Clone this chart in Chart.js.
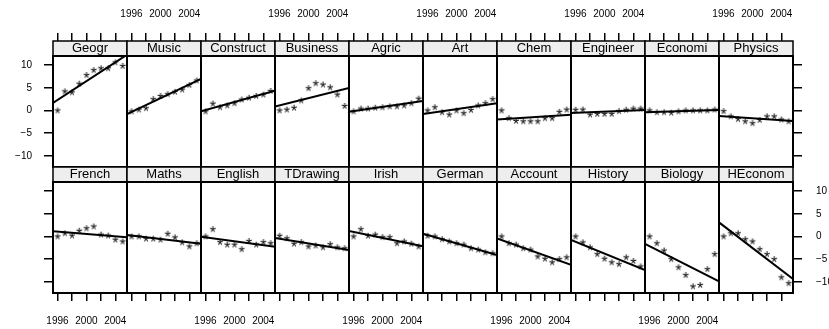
<!DOCTYPE html>
<html>
<head>
<meta charset="utf-8">
<script src="https://cdn.jsdelivr.net/npm/chart.js@4.4.1/dist/chart.umd.min.js"></script>
<style>
  html, body { margin: 0; padding: 0; background: #fff; }
  #wrap { position: relative; width: 829px; height: 329px; overflow: hidden; background: #fff; }
  #wrap canvas { position: absolute; }
</style>
</head>
<body>
<div id="wrap"></div>
<script>
// data
const years = [1996, 1997, 1998, 1999, 2000, 2001, 2002, 2003, 2004, 2005];
const subjects = ["Geogr", "Music", "Construct", "Business", "Agric", "Art", "Chem", "Engineer", "Economi", "Physics",
                  "French", "Maths", "English", "TDrawing", "Irish", "German", "Account", "History", "Biology", "HEconom"];

const geogr     = [0, 4.2, 4.0, 5.9, 7.8, 8.9, 9.3, 9.3, 10.6, 9.8];
const music     = [-0.2, 0.2, 0.5, 2.5, 3.2, 3.6, 4.1, 4.6, 5.6, 6.6];
const construct = [-0.2, 1.5, 0.7, 1.1, 1.6, 2.4, 2.8, 3.2, 3.5, 4.3];
const business  = [0, 0.2, 0.6, 2.2, 4.9, 6.0, 5.7, 5.1, 3.5, 1.0];
const agric     = [-0.2, 0.4, 0.4, 0.6, 0.7, 0.9, 0.9, 1.1, 1.6, 2.6];
const art       = [0, 0.7, -0.4, -0.9, 0, -0.6, 0.1, 1.1, 1.6, 2.5];
const chem      = [0, -1.7, -2.3, -2.4, -2.4, -2.4, -1.7, -1.7, -0.3, 0.2];
const engineer  = [0.15, 0.2, -0.9, -0.75, -0.75, -0.75, -0.15, 0.15, 0.4, 0.4];
const economi   = [0, -0.4, -0.4, -0.5, -0.2, 0, 0, 0, 0, 0.2];
const physics   = [-0.15, -1.3, -1.9, -2.4, -2.8, -2.1, -1.3, -1.3, -2.0, -2.4];
const french    = [0, 0.7, 0.2, 1.25, 1.8, 2.2, 0.4, 0.2, -0.7, -1.1];
const maths     = [0, 0, -0.5, -0.5, -0.7, 0.6, -0.2, -1.3, -2.2, -1.5];
const english   = [0, 1.6, -1.25, -1.8, -1.8, -2.8, -1.0, -1.8, -1.25, -1.5];
const tdrawing  = [0.15, -0.4, -1.6, -1.25, -2.2, -2.0, -2.4, -1.7, -2.4, -2.6];
const irish     = [0, 1.6, 0.15, 0.4, -0.15, -0.15, -1.5, -1.1, -1.6, -2.2];
const german    = [0.15, 0, -0.6, -1.1, -1.5, -1.8, -2.6, -2.9, -3.5, -3.7];
const account   = [0, -1.5, -1.8, -2.6, -2.9, -4.4, -4.9, -5.7, -5.0, -4.6];
const history   = [0, -1.3, -2.4, -3.9, -4.9, -5.7, -6.1, -4.6, -5.4, -6.6];
const biology   = [0, -1.5, -3.1, -5.0, -6.8, -8.5, -11.0, -10.7, -7.2, -3.9];
const heconom   = [0, 0.7, 0.7, -0.6, -1.1, -2.8, -3.9, -5.0, -9.0, -10.3];

const series = [geogr, music, construct, business, agric, art, chem, engineer, economi, physics,
                french, maths, english, tdrawing, irish, german, account, history, biology, heconom];

const xTickValues = [1996, 1998, 2000, 2002, 2004];
const xTickLabels = [1996, 2000, 2004];
const yTickValues = [-10, -5, 0, 5, 10];

// axis ranges
const X_MIN = 1995.38, X_MAX = 2005.62;
const Y_MIN = -12.45, Y_MAX = 12.0;

// layout
const FONT = '"Liberation Sans", Arial, Helvetica, sans-serif';
const PANEL_W = 74, PANEL_H = 111, STRIP_H = 15;
const LEFT0 = 53;
const ROW_TOP = [56, 182];
const M = { l: 55, r: 40, t: 56, b: 40 };

// "*" marker like lattice pch="*"
function makeStar() {
  const c = document.createElement("canvas");
  c.width = 10; c.height = 10;
  const g = c.getContext("2d");
  g.font = "16px " + FONT;
  g.fillStyle = "#000";
  const m = g.measureText("*");
  const w = m.actualBoundingBoxLeft + m.actualBoundingBoxRight;
  const h = m.actualBoundingBoxAscent + m.actualBoundingBoxDescent;
  g.fillText("*", 5 - w / 2 + m.actualBoundingBoxLeft, 5 - h / 2 + m.actualBoundingBoxAscent);
  return c;
}
const star = makeStar();

// least squares line through a panel's points
function fitLine(xs, ys) {
  const n = xs.length;
  const mx = xs.reduce((a, b) => a + b, 0) / n;
  const my = ys.reduce((a, b) => a + b, 0) / n;
  let sxy = 0, sxx = 0;
  for (let i = 0; i < n; i++) {
    sxy += (xs[i] - mx) * (ys[i] - my);
    sxx += (xs[i] - mx) * (xs[i] - mx);
  }
  const b = sxy / sxx;
  return x => my + b * (x - mx);
}

const fmtY = v => (v < 0 ? "\u2212" + Math.abs(v) : String(v));

// strip behind the title + box round the panel
const panelBox = {
  id: "panelBox",
  beforeDraw(chart) {
    const t = chart.titleBlock;
    if (!t) return;
    const g = chart.ctx;
    g.save();
    g.fillStyle = "#eeeeee";
    g.fillRect(t.left, t.top, t.width, t.height);
    g.strokeStyle = "#000";
    g.lineWidth = 1.5;
    g.strokeRect(t.left, t.top, t.width, t.height);
    g.restore();
  },
  afterDatasetsDraw(chart) {
    const a = chart.chartArea;
    const g = chart.ctx;
    g.save();
    g.strokeStyle = "#000";
    g.lineWidth = 2;
    g.strokeRect(a.left, a.top, a.right - a.left, a.bottom - a.top);
    g.restore();
  }
};

const wrap = document.getElementById("wrap");

subjects.forEach((name, i) => {
  const row = Math.floor(i / 10);
  const col = i % 10;
  const vals = series[i];

  const canvas = document.createElement("canvas");
  canvas.width = M.l + PANEL_W + M.r;
  canvas.height = M.t + PANEL_H + M.b;
  canvas.style.left = (LEFT0 + col * PANEL_W - M.l) + "px";
  canvas.style.top = (ROW_TOP[row] - M.t) + "px";
  wrap.appendChild(canvas);

  const showX = row === 0 ? col % 2 === 1 : col % 2 === 0;
  const hasY = col === 0 || col === 9;
  const yPos = col === 0 ? "left" : "right";
  const showY = (row === 0 && col === 0) || (row === 1 && col === 9);

  const fit = fitLine(years, vals);

  const yScale = {
    type: "linear",
    position: yPos,
    display: hasY,
    min: Y_MIN,
    max: Y_MAX,
    afterBuildTicks: s => { s.ticks = yTickValues.map(v => ({ value: v })); },
    ticks: {
      color: "#000",
      padding: yPos === "left" ? 12 : 14,
      font: { family: FONT, size: 10 },
      callback: v => (showY ? fmtY(v) : "")
    },
    grid: { drawOnChartArea: false, tickLength: 9, color: "#000", lineWidth: 1.5 },
    border: { display: false }
  };
  if (hasY) yScale.afterFit = s => { s.width = yPos === "left" ? M.l : M.r; };

  new Chart(canvas, {
    type: "scatter",
    data: {
      datasets: [
        {
          data: years.map((x, k) => ({ x, y: vals[k] })),
          pointStyle: star,
          pointRadius: 3,
          clip: 0
        },
        {
          type: "line",
          data: [{ x: X_MIN, y: fit(X_MIN) }, { x: X_MAX, y: fit(X_MAX) }],
          borderColor: "#000",
          borderWidth: 2,
          pointRadius: 0,
          fill: false,
          clip: 0
        }
      ]
    },
    options: {
      responsive: false,
      animation: false,
      devicePixelRatio: 1,
      events: [],
      layout: {
        autoPadding: false,
        padding: {
          left: col === 0 ? 0 : M.l,
          right: col === 9 ? 0 : M.r,
          top: row === 0 ? 0 : M.t - STRIP_H,
          bottom: row === 1 ? 0 : M.b
        }
      },
      plugins: {
        legend: { display: false },
        tooltip: { enabled: false },
        title: {
          display: true,
          text: name,
          color: "#000",
          fullSize: false,
          padding: 0,
          font: { family: FONT, size: 13, weight: "normal", lineHeight: STRIP_H + "px" }
        }
      },
      scales: {
        x: {
          type: "linear",
          position: row === 0 ? "top" : "bottom",
          weight: 3000,
          min: X_MIN,
          max: X_MAX,
          afterBuildTicks: s => { s.ticks = xTickValues.map(v => ({ value: v })); },
          afterFit: s => { s.height = row === 0 ? M.t - STRIP_H : M.b; },
          ticks: {
            autoSkip: false,
            maxRotation: 0,
            color: "#000",
            padding: row === 0 ? 13 : 14,
            font: { family: FONT, size: 10 },
            callback: v => (showX && xTickLabels.includes(v) ? String(v) : "")
          },
          grid: { drawOnChartArea: false, tickLength: 8, color: "#000", lineWidth: 1.5 },
          border: { display: false }
        },
        y: yScale
      }
    },
    plugins: [panelBox]
  });
});
</script>
</body>
</html>
